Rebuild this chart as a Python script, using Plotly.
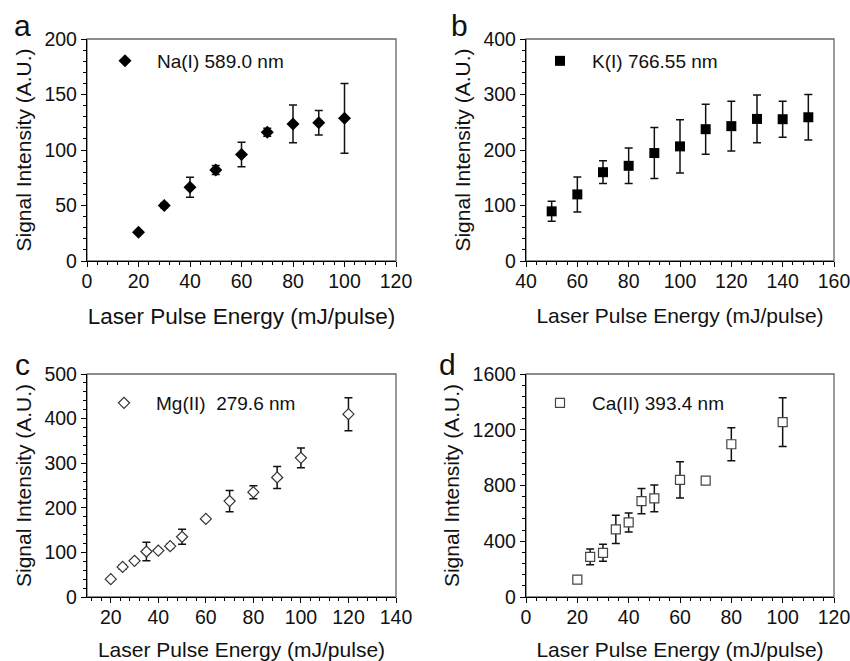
import plotly.graph_objects as go

# ---- data ----
na_x = [20, 30, 40, 50, 60, 70, 80, 90, 100]
na_y = [26, 50, 66.5, 82, 96, 116, 123.5, 124.5, 128.5]
na_err = [1.5, 2, 9, 4, 11, 3.5, 17, 11, 31.5]

k_x = [50, 60, 70, 80, 90, 100, 110, 120, 130, 140, 150]
k_y = [89.5, 120, 160, 171.5, 194.5, 206.5, 237.5, 243, 256, 255.5, 259]
k_err = [18, 31.5, 20.5, 32, 46, 48, 45, 45, 43, 32.5, 41]

mg_x = [20, 25, 30, 35, 40, 45, 50, 60, 70, 80, 90, 100, 120]
mg_y = [40, 67.5, 81, 102, 104, 114, 135, 175, 215, 235, 268, 312, 410]
mg_err = [0, 5, 0, 21, 0, 5, 17, 0, 24, 14.5, 24.5, 22, 37]

ca_x = [20, 25, 30, 35, 40, 45, 50, 60, 70, 80, 100]
ca_y = [125, 288, 317, 485, 535, 688, 708, 840, 835, 1096, 1255]
ca_err = [0, 57, 61, 102, 68, 91, 96, 130, 0, 118, 175]

panel_labels = ["a", "b", "c", "d"]
legend_names = ["Na(I) 589.0 nm", "K(I) 766.55 nm", "Mg(II)  279.6 nm", "Ca(II) 393.4 nm"]
x_title = "Laser Pulse Energy (mJ/pulse)"
y_title = "Signal Intensity (A.U.)"

W, H = 850, 661
FONT = "Arial, Liberation Sans, sans-serif"


def fx(px):
    return px / W


def fy(py):
    return 1 - py / H


fig = go.Figure()

err_style = dict(type="data", visible=True, color="#111", thickness=1.5, width=4)

fig.add_trace(go.Scatter(x=na_x, y=na_y, mode="markers", name=legend_names[0],
                         error_y=dict(array=na_err, **err_style),
                         marker=dict(symbol="diamond", size=10, color="black"),
                         xaxis="x", yaxis="y", legend="legend"))
fig.add_trace(go.Scatter(x=k_x, y=k_y, mode="markers", name=legend_names[1],
                         error_y=dict(array=k_err, **err_style),
                         marker=dict(symbol="square", size=10, color="black"),
                         xaxis="x2", yaxis="y2", legend="legend2"))
fig.add_trace(go.Scatter(x=mg_x, y=mg_y, mode="markers", name=legend_names[2],
                         error_y=dict(array=mg_err, **err_style),
                         marker=dict(symbol="diamond", size=8.5, color="white",
                                     line=dict(color="#333", width=1.2)),
                         xaxis="x3", yaxis="y3", legend="legend3"))
fig.add_trace(go.Scatter(x=ca_x, y=ca_y, mode="markers", name=legend_names[3],
                         error_y=dict(array=ca_err, **err_style),
                         marker=dict(symbol="square", size=9, color="white",
                                     line=dict(color="#444", width=1.2)),
                         xaxis="x4", yaxis="y4", legend="legend4"))

xdom_l = [fx(87), fx(396)]
xdom_r = [fx(526), fx(834)]
ydom_t = [fy(261), fy(39)]
ydom_b = [fy(597), fy(374)]

tickfont = dict(family=FONT, size=19.5, color="#111")


def xax(dom, rng, dtick, anchor, tsize=21):
    return dict(domain=dom, range=rng, dtick=dtick, tick0=0, anchor=anchor,
                automargin=False, ticklabeloverflow="allow", ticklabelstandoff=-3,
                showgrid=False, zeroline=False, showline=True, linecolor="black",
                linewidth=1.3, ticks="outside", ticklen=5, tickwidth=1.3,
                tickcolor="black", tickfont=tickfont,
                title=dict(text=x_title, font=dict(family=FONT, size=tsize, color="#111"),
                           standoff=17),
                minor=dict(dtick=dtick / 5, ticks="outside", ticklen=3,
                           tickwidth=1.2, tickcolor="black", showgrid=False))


def yax(dom, rng, dtick, anchor):
    return dict(domain=dom, range=rng, dtick=dtick, tick0=0, anchor=anchor,
                automargin=False, ticklabeloverflow="allow",
                showgrid=False, zeroline=False, showline=True, linecolor="black",
                linewidth=1.3, ticks="outside", ticklen=5, tickwidth=1.3,
                tickcolor="black", tickfont=tickfont,
                title=dict(text=y_title, font=dict(family=FONT, size=21, color="#111"),
                           standoff=7),
                minor=dict(dtick=dtick / 5, ticks="outside", ticklen=3,
                           tickwidth=1.2, tickcolor="black", showgrid=False))


def leg(px, py):
    # px, py: position of the legend symbol centre
    return dict(x=fx(px - 32), y=fy(py - 1), xanchor="left", yanchor="middle",
                bgcolor="rgba(0,0,0,0)", borderwidth=0, itemwidth=54,
                font=dict(family=FONT, size=19, color="#111"))


shapes = []
for xr, yr in [("x", "y"), ("x2", "y2"), ("x3", "y3"), ("x4", "y4")]:
    shapes.append(dict(type="rect", xref=f"{xr} domain", yref=f"{yr} domain",
                       x0=0, x1=1, y0=0, y1=1, layer="below",
                       line=dict(color="#666", width=1.3)))

label_pos = [(22, 25), (460, 25), (22, 365), (447, 365)]
annotations = []
for lab, (px, py) in zip(panel_labels, label_pos):
    annotations.append(dict(text=lab, x=fx(px), y=fy(py), xref="paper", yref="paper",
                            showarrow=False, xanchor="center", yanchor="middle",
                            font=dict(family=FONT, size=30, color="#111")))

fig.update_layout(
    template="none",
    width=W, height=H,
    margin=dict(l=0, r=0, t=0, b=0, autoexpand=False),
    paper_bgcolor="white", plot_bgcolor="white",
    showlegend=True,
    xaxis=xax(xdom_l, [0, 120], 20, "y", tsize=22.5),
    yaxis=yax(ydom_t, [0, 200], 50, "x"),
    xaxis2=xax(xdom_r, [40, 160], 20, "y2"),
    yaxis2=yax(ydom_t, [0, 400], 100, "x2"),
    xaxis3=xax(xdom_l, [10, 140], 20, "y3"),
    yaxis3=yax(ydom_b, [0, 500], 100, "x3"),
    xaxis4=xax(xdom_r, [0, 120], 20, "y4"),
    yaxis4=yax(ydom_b, [0, 1600], 400, "x4"),
    legend=leg(125, 62),
    legend2=leg(560, 62),
    legend3=leg(124, 404),
    legend4=leg(560, 404),
    shapes=shapes,
    annotations=annotations,
)

# remove the page's default body margin so the 850x661 figure fills the window
fig.write_html("out.html",
               config={"displayModeBar": False},
               post_script="document.body.style.margin='0';"
                           "document.body.style.overflow='hidden';")
